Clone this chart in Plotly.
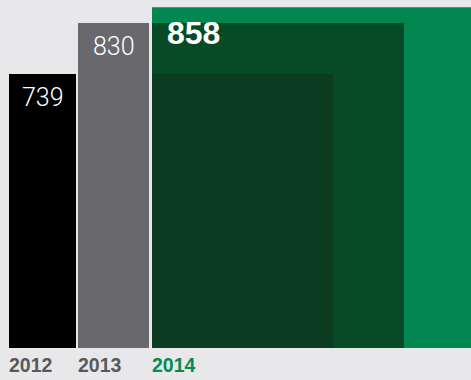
import plotly.graph_objects as go

years = ["2012", "2013", "2014"]
values = [739, 830, 858]
bar_colors = ["#000000", "#69686d", "#038751"]
label_colors = ["#59595b", "#59595b", "#078a4e"]

# echo ("shadow") bars of earlier years drawn inside the 2014 bar
echo_values = [830, 739]
echo_colors = ["#064a26", "#0b3c1f"]

PX = 71.0  # pixels per category unit
offsets = [-33.5 / PX, -35.5 / PX, -32.5 / PX]
widths = [67 / PX, 71 / PX, 6.0]
echo_widths = [252 / PX, 181 / PX]

fig = go.Figure()
fig.add_trace(go.Bar(x=years, y=values, marker=dict(color=bar_colors, line=dict(width=0)),
                     offset=offsets, width=widths, hoverinfo="skip"))
for v, c, w in zip(echo_values, echo_colors, echo_widths):
    fig.add_trace(go.Bar(x=[years[2]], y=[v], marker=dict(color=c, line=dict(width=0)),
                         offset=[offsets[2]], width=[w], hoverinfo="skip"))

# value labels (x given as category index)
for i, v in enumerate(values):
    if i < 2:
        fig.add_annotation(x=i, y=v, text=str(v), showarrow=False, xanchor="center",
                           yanchor="middle", yshift=-24,
                           font=dict(family="Roboto", weight=300, size=25, color="white"))
    else:
        fig.add_annotation(x=i, y=v, text=f"<b>{v}</b>", showarrow=False, xanchor="left",
                           yanchor="middle", yshift=-26, xshift=offsets[i] * PX + 13,
                           font=dict(family="Liberation Sans", size=32, color="white"))

# year labels
for i, yr in enumerate(years):
    fig.add_annotation(x=i, y=0, yref="paper", text=f"<b>{yr}</b>", showarrow=False,
                       xanchor="left", yanchor="top", yshift=-4,
                       xshift=offsets[i] * PX - 2,
                       font=dict(family="Liberation Sans", size=19.5, color=label_colors[i]))

fig.update_layout(
    width=471, height=380,
    margin=dict(l=0, r=0, t=0, b=32),
    barmode="overlay",
    showlegend=False,
    paper_bgcolor="#e8e8ea",
    plot_bgcolor="#e8e8ea",
    xaxis=dict(type="category", range=[-42.5 / PX, (471 - 42.5) / PX], visible=False,
               fixedrange=True),
    yaxis=dict(range=[250, 871], visible=False, fixedrange=True),
)

fig.write_html("out.html", config={"displayModeBar": False})
